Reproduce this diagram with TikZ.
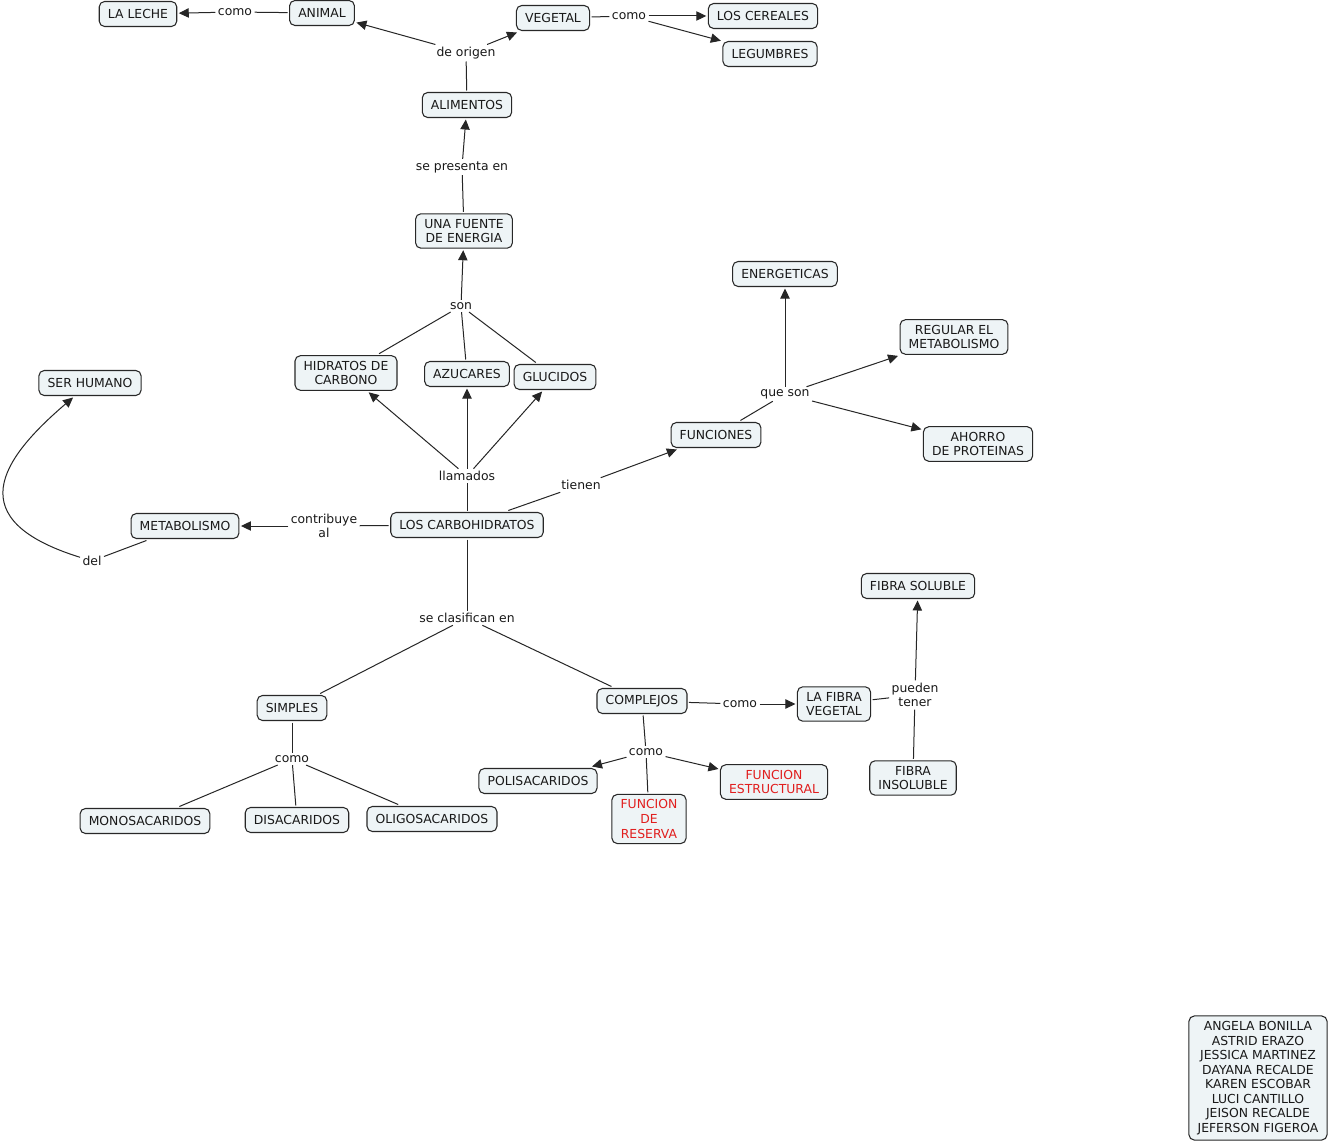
\documentclass[tikz,border=0pt]{standalone}
\usepackage{fontspec}
\setmainfont{DejaVu Sans}
\usetikzlibrary{arrows.meta}
\definecolor{cajafondo}{RGB}{238,244,246}
\definecolor{cajaborde}{RGB}{40,40,40}
\definecolor{texto}{RGB}{25,25,25}
\definecolor{cmaprojo}{RGB}{225,30,30}
\tikzset{
  concepto/.style={draw=cajaborde, fill=cajafondo, rounded corners=4pt, line width=0.8pt,
    inner xsep=6.5pt, inner ysep=4pt, minimum height=18.75pt, align=center, outer sep=1.5pt, text=texto},
  enlace/.style={inner sep=1.5pt, align=center, text=texto},
  flecha/.style={-{Triangle[length=7.5pt,width=7pt]}},
}
\begin{document}
\begin{tikzpicture}[x=0.75pt, y=-0.75pt, font=\fontsize{9.3}{10.9}\selectfont, line width=0.75pt, color=black!85]
				%Bildbereich
				\path[use as bounding box, fill=white] (0,0) rectangle (1329,1145);
				% Conceptos
				\node[concepto] (leche) at (138,14) {LA LECHE};
				\node[concepto] (animal) at (322,13) {ANIMAL};
				\node[concepto] (vegetal) at (553,18) {VEGETAL};
				\node[concepto] (cereales) at (763,16) {LOS CEREALES};
				\node[concepto] (legumbres) at (770,54) {LEGUMBRES};
				\node[concepto] (alimentos) at (467,105) {ALIMENTOS};
				\node[concepto] (fuente) at (464,231) {UNA FUENTE\\DE ENERGIA};
				\node[concepto] (hidratos) at (346,373) {HIDRATOS DE\\CARBONO};
				\node[concepto] (azucares) at (467,374) {AZUCARES};
				\node[concepto] (glucidos) at (555,377) {GLUCIDOS};
				\node[concepto] (serhumano) at (90,383) {SER HUMANO};
				\node[concepto] (energeticas) at (785,274) {ENERGETICAS};
				\node[concepto] (regular) at (954,337) {REGULAR EL\\METABOLISMO};
				\node[concepto] (ahorro) at (978,444) {AHORRO\\DE PROTEINAS};
				\node[concepto] (funciones) at (716,435) {FUNCIONES};
				\node[concepto] (metabolismo) at (185,526) {METABOLISMO};
				\node[concepto] (carbo) at (467,525) {LOS CARBOHIDRATOS};
				\node[concepto] (fsoluble) at (918,586) {FIBRA SOLUBLE};
				\node[concepto] (simples) at (292,708) {SIMPLES};
				\node[concepto] (complejos) at (642,701) {COMPLEJOS};
				\node[concepto] (fvegetal) at (834,704) {LA FIBRA\\VEGETAL};
				\node[concepto] (finsoluble) at (913,778) {FIBRA\\INSOLUBLE};
				\node[concepto] (polisac) at (538,781) {POLISACARIDOS};
				\node[concepto, text=cmaprojo] (reserva) at (649,819) {FUNCION\\DE\\RESERVA};
				\node[concepto, text=cmaprojo] (estructural) at (774,782) {FUNCION\\ESTRUCTURAL};
				\node[concepto] (monosac) at (145,821) {MONOSACARIDOS};
				\node[concepto] (disac) at (297,820) {DISACARIDOS};
				\node[concepto] (oligosac) at (432,819) {OLIGOSACARIDOS};
				\node[concepto] (autores) at (1258,1078) {ANGELA BONILLA\\ASTRID ERAZO\\JESSICA MARTINEZ\\DAYANA RECALDE\\KAREN ESCOBAR\\LUCI CANTILLO\\JEISON RECALDE\\JEFERSON FIGEROA};
				% Enlaces
				\node[enlace] (comoA) at (235,12) {como};
				\node[enlace] (origen) at (466,53) {de origen};
				\node[enlace] (comoB) at (629,16) {como};
				\node[enlace] (presenta) at (462,167) {se presenta en};
				\node[enlace] (son) at (461,306) {son};
				\node[enlace] (llamados) at (467,476) {llamados};
				\node[enlace] (tienen) at (581,485) {tienen};
				\node[enlace] (queson) at (785,394) {que son};
				\node[enlace] (contribuye) at (324,526) {contribuye\\al};
				\node[enlace] (del) at (92,561) {del};
				\node[enlace] (clasifican) at (467,618) {se clasifican en};
				\node[enlace] (comoC) at (292,759) {como};
				\node[enlace] (comoD) at (646,752) {como};
				\node[enlace] (comoE) at (740,704) {como};
				\node[enlace] (pueden) at (915,695) {pueden\\tener};
				% Verbindungen
				\draw (animal) -- (comoA);
				\draw[flecha] (comoA) -- (leche);
				\draw (alimentos) -- (origen);
				\draw[flecha] (origen) -- (animal);
				\draw[flecha] (origen) -- (vegetal);
				\draw (vegetal) -- (comoB);
				\foreach \z in {cereales, legumbres} \draw[flecha] (comoB) -- (\z);
				\draw (fuente) -- (presenta);
				\draw[flecha] (presenta) -- (alimentos);
				\foreach \z in {hidratos, azucares, glucidos} \draw (\z) -- (son);
				\draw[flecha] (son) -- (fuente);
				\draw (carbo) -- (llamados);
				\foreach \z in {hidratos, azucares, glucidos} \draw[flecha] (llamados) -- (\z);
				\draw (carbo) -- (tienen);
				\draw[flecha] (tienen) -- (funciones);
				\draw (funciones) -- (queson);
				\foreach \z in {energeticas, regular, ahorro} \draw[flecha] (queson) -- (\z);
				\draw (carbo) -- (contribuye);
				\draw[flecha] (contribuye) -- (metabolismo);
				\draw (metabolismo) -- (del);
				\draw[flecha] (del) .. controls (-40,520) and (0,460) .. (serhumano);
				\draw (carbo) -- (clasifican);
				\foreach \z in {simples, complejos} \draw (clasifican) -- (\z);
				\draw (simples) -- (comoC);
				\foreach \z in {monosac, disac, oligosac} \draw (comoC) -- (\z);
				\draw (complejos) -- (comoD);
				\draw (comoD) -- (reserva);
				\foreach \z in {polisac, estructural} \draw[flecha] (comoD) -- (\z);
				\draw (complejos) -- (comoE);
				\draw[flecha] (comoE) -- (fvegetal);
				\foreach \z in {fvegetal, finsoluble} \draw (\z) -- (pueden);
				\draw[flecha] (pueden) -- (fsoluble);
			\end{tikzpicture}
\end{document}
